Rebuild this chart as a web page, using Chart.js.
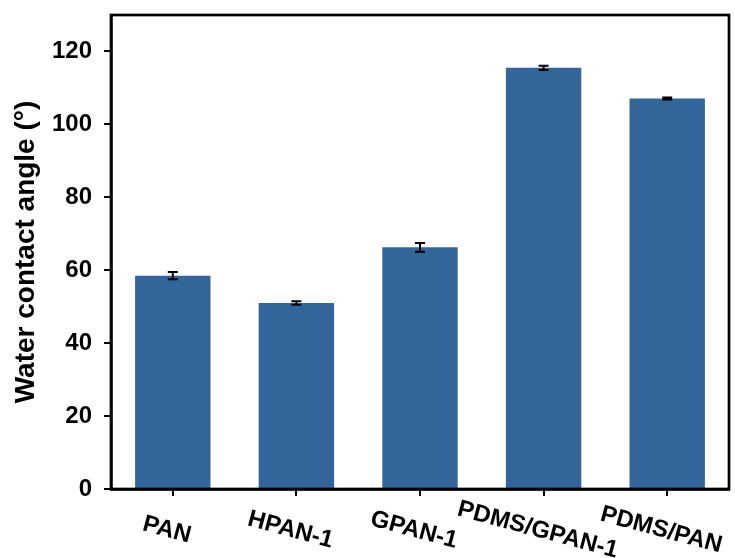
<!DOCTYPE html>
<html>
<head>
<meta charset="utf-8">
<script src="https://cdn.jsdelivr.net/npm/chart.js@4"></script>
<style>
  html, body { margin: 0; padding: 0; background: #fff; }
  #wrap { width: 735px; height: 558px; }
</style>
</head>
<body>
<div id="wrap"><canvas id="chart"></canvas></div>
<script>
// data
const categories = ['PAN', 'HPAN-1', 'GPAN-1', 'PDMS/GPAN-1', 'PDMS/PAN'];
const angles = [58.5, 51.0, 66.3, 115.5, 107.1];
const errors = [1.0, 0.5, 1.2, 0.6, 0.3];
const yTicks = [0, 20, 40, 60, 80, 100, 120];

const FONT = "'Liberation Sans', Arial, sans-serif";

// error bars on top of each bar
const errorBars = {
  id: 'errorBars',
  afterDatasetsDraw(chart) {
    const ctx = chart.ctx;
    const y = chart.scales.y;
    const meta = chart.getDatasetMeta(0);
    ctx.save();
    ctx.strokeStyle = '#000';
    ctx.lineWidth = 2;
    meta.data.forEach((bar, i) => {
      const top = y.getPixelForValue(angles[i] + errors[i]);
      const bot = y.getPixelForValue(angles[i] - errors[i]);
      ctx.beginPath();
      ctx.moveTo(bar.x, top);
      ctx.lineTo(bar.x, bot);
      ctx.moveTo(bar.x - 5, top);
      ctx.lineTo(bar.x + 5, top);
      ctx.moveTo(bar.x - 5, bot);
      ctx.lineTo(bar.x + 5, bot);
      ctx.stroke();
    });
    ctx.restore();
  }
};

// box round the plot + tilted category labels
const frameAndLabels = {
  id: 'frameAndLabels',
  afterDraw(chart) {
    const ctx = chart.ctx;
    const a = chart.chartArea;
    const x = chart.scales.x;
    ctx.save();
    ctx.strokeStyle = '#000';
    ctx.lineWidth = 2.7;
    ctx.strokeRect(a.left, a.top, a.right - a.left, a.bottom - a.top);

    ctx.fillStyle = '#000';
    ctx.font = 'bold 24px ' + FONT;
    ctx.textAlign = 'center';
    ctx.textBaseline = 'middle';
    categories.forEach((label, i) => {
      ctx.save();
      ctx.translate(x.getPixelForTick(i) - 6, a.bottom + 41);
      ctx.rotate(15 * Math.PI / 180);
      ctx.fillText(label, 0, 0);
      ctx.restore();
    });
    ctx.restore();
  }
};

new Chart(document.getElementById('chart'), {
  type: 'bar',
  data: {
    labels: categories,
    datasets: [{
      data: angles,
      backgroundColor: '#33659a',
      borderWidth: 0,
      barPercentage: 0.61,
      categoryPercentage: 1
    }]
  },
  options: {
    responsive: true,
    maintainAspectRatio: false,
    animation: false,
    layout: { padding: { top: 15, right: 6, left: 0, bottom: 0 } },
    plugins: {
      legend: { display: false },
      tooltip: { enabled: false }
    },
    scales: {
      x: {
        ticks: { display: false },
        grid: {
          offset: false,
          drawOnChartArea: false,
          color: '#000',
          lineWidth: 2,
          tickLength: 7
        },
        border: { color: '#000', width: 2.7 },
        afterFit(s) {
          s.height = 69;
          s.paddingLeft = 0;
          s.paddingRight = 0;
        }
      },
      y: {
        min: 0,
        max: 130,
        afterBuildTicks(s) {
          s.ticks = yTicks.map(v => ({ value: v }));
        },
        ticks: {
          color: '#000',
          padding: 12,
          font: { family: FONT, size: 24, weight: 'bold' }
        },
        grid: {
          drawOnChartArea: false,
          color: '#000',
          lineWidth: 2,
          tickLength: 7
        },
        border: { color: '#000', width: 2.7 },
        title: {
          display: true,
          text: 'Water contact angle (°)',
          color: '#000',
          font: { family: FONT, size: 28, weight: 'bold' },
          padding: { top: 9, bottom: 0 }
        },
        afterFit(s) {
          s.width = 111;
          s.paddingTop = 0;
          s.paddingBottom = 0;
        }
      }
    }
  },
  plugins: [errorBars, frameAndLabels]
});
</script>
</body>
</html>
